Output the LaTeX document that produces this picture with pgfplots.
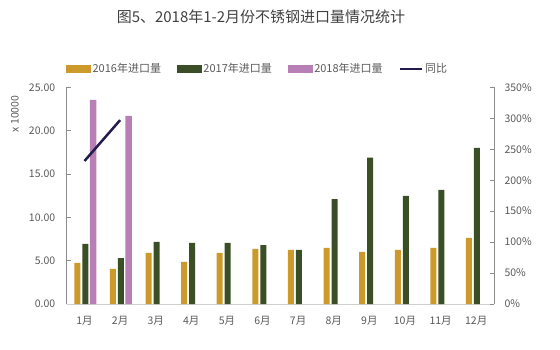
\documentclass[border=0pt]{standalone}
\usepackage{pgfplots}
\pgfplotsset{compat=1.18}
\usepackage{fontspec}
\setmainfont{Noto Sans CJK SC}
\definecolor{cA}{HTML}{CC9A2A}
\definecolor{cB}{HTML}{3A4F26}
\definecolor{cC}{HTML}{B77FB5}
\definecolor{cL}{HTML}{221C4E}
\definecolor{tx}{HTML}{595959}
\definecolor{tt}{HTML}{404040}
\definecolor{ax}{HTML}{8C8C8C}
\definecolor{axb}{HTML}{D0D0D0}
\begin{document}
\begin{tikzpicture}
\path[use as bounding box] (0,0) rectangle (560pt,349pt);
\node[text=tt, font=\fontsize{15}{17}\selectfont] at (261pt,332pt) {图5、2018年1-2月份不锈钢进口量情况统计};
\node[text=tx, rotate=90, font=\fontsize{10.5}{12}\selectfont] at (15pt,235pt) {x 10000};
\begin{axis}[
  at={(66.7pt,45pt)}, anchor=south west,
  scale only axis, width=427.3pt, height=216.7pt,
  xmin=0.5, xmax=12.5, ymin=0, ymax=25,
  axis x line*=bottom, axis y line*=left,
  x axis line style={draw=axb, line width=0.8pt, -},
  y axis line style={draw=ax, line width=0.6pt, -},
  xtick={1,...,12},
  xticklabels={1月,2月,3月,4月,5月,6月,7月,8月,9月,10月,11月,12月},
  xtick style={draw=none},
  ytick={0,5,...,25},
  ytick style={draw=ax, line width=0.6pt},
  tick align=inside, major tick length=4pt,
  yticklabel={\pgfmathprintnumber[fixed,fixed zerofill,precision=2]{\tick}},
  /pgf/number format/assume math mode=true,
  ticklabel style={text=tx, font=\fontsize{10.5}{12}\selectfont},
  yticklabel style={xshift=-8pt},
  xticklabel style={yshift=-9pt},
]
\addplot[ybar, bar width=6pt, bar shift=-7.2pt, fill=cA, draw=none] coordinates {
(1,4.75) (2,4.05) (3,5.9) (4,4.85) (5,5.9) (6,6.35) (7,6.24) (8,6.47) (9,6.0) (10,6.24) (11,6.47) (12,7.62)};
\addplot[ybar, bar width=6pt, bar shift=0.8pt, fill=cB, draw=none] coordinates {
(1,6.95) (2,5.3) (3,7.16) (4,7.04) (5,7.04) (6,6.8) (7,6.24) (8,12.1) (9,16.9) (10,12.47) (11,13.16) (12,18.0)};
\addplot[ybar, bar width=6.5pt, bar shift=8.6pt, fill=cC, draw=none] coordinates {
(1,23.55) (2,21.7)};
\end{axis}
\begin{axis}[
  at={(66.7pt,45pt)}, anchor=south west,
  scale only axis, width=427.3pt, height=216.7pt,
  xmin=0.5, xmax=12.5, ymin=0, ymax=350,
  axis x line=none, axis y line*=right,
  y axis line style={draw=ax, line width=0.6pt, -},
  ytick={0,50,...,350},
  ytick style={draw=ax, line width=0.6pt},
  tick align=inside, major tick length=4pt,
  yticklabel={\pgfmathprintnumber{\tick}\%},
  /pgf/number format/assume math mode=true,
  ticklabel style={text=tx, font=\fontsize{10.5}{12}\selectfont},
  yticklabel style={xshift=7pt},
  legend columns=4,
  legend style={draw=none, fill=none, at={(0.447,1.085)}, anchor=center,
    font=\fontsize{11}{12}\selectfont, text=tx,
    /tikz/every even column/.append style={column sep=14pt}},
  legend cell align=left,
]
\addlegendimage{legend image code/.code={\fill[cA] (0pt,-3.5pt) rectangle (24pt,3.5pt);}}
\addlegendentry{2016年进口量}
\addlegendimage{legend image code/.code={\fill[cB] (0pt,-3.5pt) rectangle (24pt,3.5pt);}}
\addlegendentry{2017年进口量}
\addlegendimage{legend image code/.code={\fill[cC] (0pt,-3.5pt) rectangle (24pt,3.5pt);}}
\addlegendentry{2018年进口量}
\addplot[cL, line width=2.5pt, mark=none, legend image code/.code={\draw[cL, line width=2.5pt] (0pt,0pt) -- (22pt,0pt);}] coordinates {(1,231) (2,297)};
\addlegendentry{同比}
\end{axis}
\end{tikzpicture}
\end{document}
